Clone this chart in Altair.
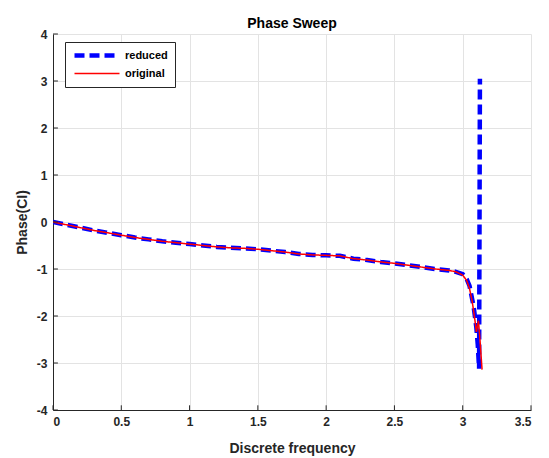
import altair as alt
import pandas as pd

# Original (red) phase curve
x_orig = [0.0, 0.1, 0.2, 0.3, 0.4, 0.5, 0.6, 0.7, 0.8, 0.9, 1.0, 1.1, 1.2, 1.3,
          1.4, 1.5, 1.6, 1.7, 1.8, 1.9, 2.0, 2.1, 2.2, 2.3, 2.4, 2.5, 2.6, 2.7,
          2.8, 2.9, 2.95, 3.0, 3.03, 3.05, 3.07, 3.09, 3.10, 3.115, 3.125, 3.1416]
y_orig = [0.0, -0.06, -0.12, -0.18, -0.23, -0.28, -0.33, -0.37, -0.41, -0.44,
          -0.47, -0.50, -0.53, -0.55, -0.56, -0.58, -0.61, -0.64, -0.68, -0.70,
          -0.71, -0.72, -0.78, -0.81, -0.85, -0.88, -0.92, -0.96, -1.00, -1.03,
          -1.06, -1.13, -1.25, -1.42, -1.70, -2.10, -2.34, -2.10, -2.45, -3.14]

# Reduced (blue dashed) phase curve
x_red = [0.0, 0.1, 0.2, 0.3, 0.4, 0.5, 0.6, 0.7, 0.8, 0.9, 1.0, 1.1, 1.2, 1.3,
         1.4, 1.5, 1.6, 1.7, 1.8, 1.9, 2.0, 2.1, 2.2, 2.3, 2.4, 2.5, 2.6, 2.7,
         2.8, 2.9, 2.95, 3.0, 3.03, 3.05, 3.08, 3.10, 3.11, 3.12, 3.126]
y_red = [0.0, -0.06, -0.12, -0.18, -0.23, -0.28, -0.33, -0.37, -0.41, -0.44,
         -0.47, -0.50, -0.53, -0.55, -0.56, -0.58, -0.61, -0.64, -0.68, -0.70,
         -0.71, -0.72, -0.78, -0.81, -0.85, -0.88, -0.92, -0.96, -1.00, -1.03,
         -1.06, -1.11, -1.22, -1.36, -1.80, -2.25, -2.60, -3.12, 3.05]

x_ticks = [0, 0.5, 1, 1.5, 2, 2.5, 3, 3.5]
y_ticks = [-4, -3, -2, -1, 0, 1, 2, 3, 4]
series = ["reduced", "original"]

df = pd.concat([
    pd.DataFrame({"x": x_red, "y": y_red, "s": "reduced", "o": range(len(x_red))}),
    pd.DataFrame({"x": x_orig, "y": y_orig, "s": "original", "o": range(len(x_orig))}),
])

FONT = "Liberation Sans"
AX = "#262626"

xscale = alt.Scale(domain=[0, 3.5], nice=False)
yscale = alt.Scale(domain=[-4, 4], nice=False)

common = dict(tickSize=0, gridColor="#e3e3e3", domainColor=AX, labelColor=AX,
              titleColor=AX, labelFont=FONT, titleFont=FONT, labelFontSize=12,
              titleFontSize=14, labelFontWeight="bold", titleFontWeight="bold",
              domainWidth=1, labelExpr="toString(datum.value)")
xaxis = alt.Axis(values=x_ticks, title="Discrete frequency", labelPadding=6,
                 titlePadding=14, **common)
yaxis = alt.Axis(values=y_ticks, title="Phase(CI)", labelPadding=6, titlePadding=7,
                 **common)

color = alt.Color("s:N", scale=alt.Scale(domain=series, range=["#0000ff", "#ff0000"]),
                  legend=alt.Legend(title=None, orient="none", legendX=12, legendY=8,
                                    symbolType="stroke", symbolSize=2025, clipHeight=13,
                                    labelFontSize=11, labelFont=FONT, labelFontWeight="bold",
                                    labelColor="#000000",
                                    strokeColor=AX, fillColor="white", padding=7,
                                    rowPadding=5, labelOffset=3, cornerRadius=0))
dash = alt.StrokeDash("s:N", scale=alt.Scale(domain=series, range=[[10, 5], [1, 0]]), legend=None)
width = alt.StrokeWidth("s:N", scale=alt.Scale(domain=series, range=[4.5, 1.5]), legend=None)

base = alt.Chart(df)
blue = base.transform_filter(alt.datum.s == "reduced").mark_line(clip=True).encode(
    x=alt.X("x:Q", scale=xscale, axis=xaxis),
    y=alt.Y("y:Q", scale=yscale, axis=yaxis),
    color=color, strokeDash=dash, strokeWidth=width, order="o:Q")
red = base.transform_filter(alt.datum.s == "original").mark_line(clip=True).encode(
    x=alt.X("x:Q", scale=xscale), y=alt.Y("y:Q", scale=yscale),
    color=color, strokeDash=dash, strokeWidth=width, order="o:Q")

xt = pd.DataFrame({"t": x_ticks})
yt = pd.DataFrame({"t": y_ticks})
xtick_rules = alt.Chart(xt).mark_rule(color=AX, strokeWidth=1).encode(
    x=alt.X("t:Q", scale=xscale), y=alt.datum(-4), y2=alt.datum(-3.9))
ytick_rules = alt.Chart(yt).mark_rule(color=AX, strokeWidth=1).encode(
    y=alt.Y("t:Q", scale=yscale), x=alt.datum(0), x2=alt.datum(0.036))

chart = alt.layer(blue, red, xtick_rules, ytick_rules).properties(
    width=478, height=376,
    title=alt.TitleParams("Phase Sweep", fontSize=14, font=FONT, fontWeight="bold",
                          color="#000000", offset=-3, anchor="middle"),
    autosize=alt.AutoSizeParams(type="none"),
    padding={"left": 45, "top": 26, "right": 10, "bottom": 48},
    background="white",
).configure_view(stroke=None)

chart.save("out.html", embed_options={"renderer": "svg", "actions": False})
